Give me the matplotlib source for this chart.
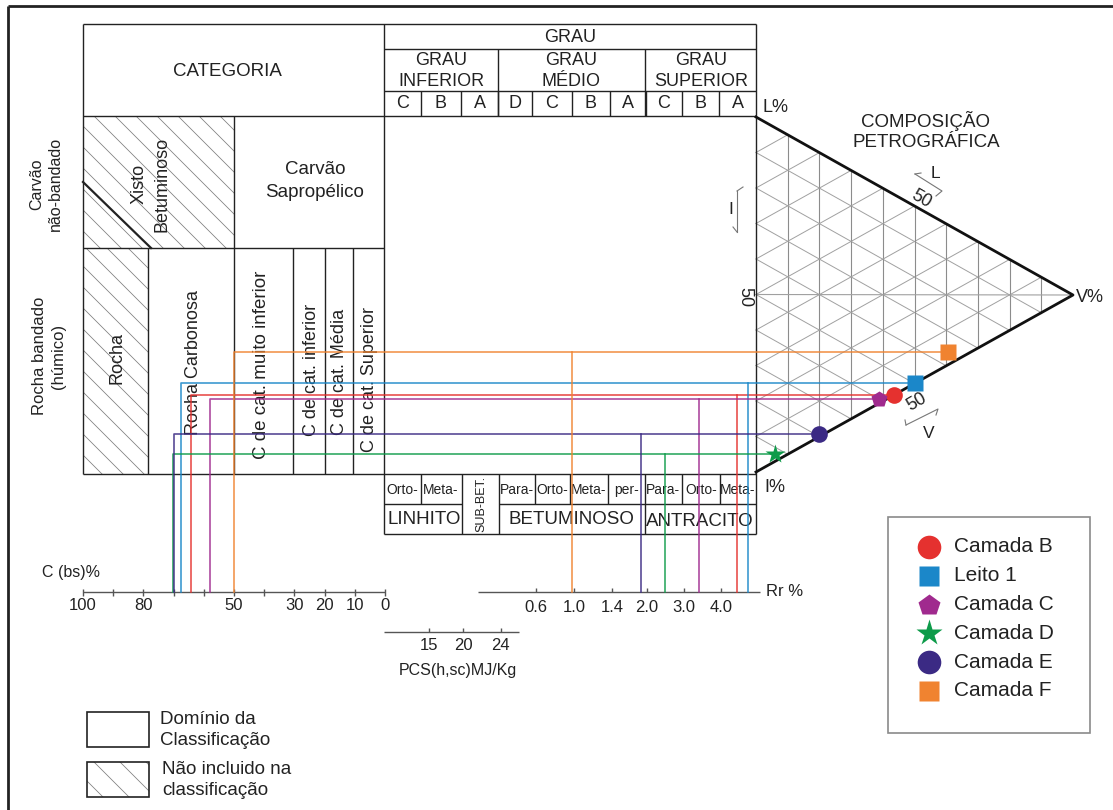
import numpy as np
import matplotlib
matplotlib.use('Agg')
import matplotlib.pyplot as plt
from matplotlib.patches import Rectangle

plt.rcParams['font.family'] = ['Liberation Sans', 'DejaVu Sans']

# ---- sample data ----
names = ['Camada B', 'Leito 1', 'Camada C', 'Camada D', 'Camada E', 'Camada F']
carbon = [64.3, 67.7, 58.0, 70.2, 69.8, 50.0]     # C (bs)%
refl = [4.44, 4.74, 3.40, 2.49, 1.90, 0.98]       # Rr %
vitr = [43.5, 50.2, 38.8, 6.0, 19.9, 60.6]        # V %
inert = [56.5, 49.8, 60.0, 92.0, 79.3, 35.8]      # I %
lipt = [0.0, 0.0, 1.2, 2.0, 0.8, 3.6]             # L %

# ---- axis ticks ----
c_ticks = [100, 90, 80, 70, 60, 50, 40, 30, 20, 10, 0]
c_labels = ['100', '', '80', '', '', '50', '', '30', '20', '10', '0']
rr_ticks = [0.6, 1.0, 1.4, 2.0, 3.0, 4.0]
pcs_ticks = [15, 20, 24]

# styles
colors = ['#e5312f', '#1b87c9', '#a02a8e', '#0e9b4a', '#3b2a84', '#f08330']
markers = ['o', 's', 'p', '*', 'o', 's']
msizes = [12, 11, 12, 15, 12, 11]
leg_sizes = [17, 15, 16, 20, 17, 15]
INK = '#222222'
GRID = '#a0a0a0'

# ---- scales (pixel space) ----
def cx(c):
    return np.interp(c, [0, 100], [385, 83])

RR_VAL = [0.6, 1.0, 1.4, 2.0, 3.0, 4.0, 5.0]
RR_POS = [535.7, 574, 612.3, 646.7, 684.3, 721, 758]
def rx(r):
    return np.interp(r, RR_VAL, RR_POS)

PCS_VAL = [15, 20, 24]
PCS_POS = [429.3, 463.3, 500.7]
def px(p):
    return np.interp(p, PCS_VAL, PCS_POS)

L_V = (756, 117)
I_V = (756, 472)
V_V = (1073, 295)
def tern(v, i, l):
    s = float(v + i + l)
    x = (v * V_V[0] + i * I_V[0] + l * L_V[0]) / s
    y = (v * V_V[1] + i * I_V[1] + l * L_V[1]) / s
    return x, y

fig = plt.figure(figsize=(11.13, 8.10), dpi=100)
ax = fig.add_axes([0, 0, 1, 1])
ax.set_xlim(0, 1113)
ax.set_ylim(810, 0)
ax.axis('off')

def hl(x0, x1, y, c=INK, lw=1.0, z=2):
    ax.plot([x0, x1], [y, y], color=c, lw=lw, zorder=z, solid_capstyle='butt')

def vl(x, y0, y1, c=INK, lw=1.0, z=2):
    ax.plot([x, x], [y0, y1], color=c, lw=lw, zorder=z, solid_capstyle='butt')

def txt(x, y, s, size=12, rot=0, ha='center', va='center', ls=1.45):
    ax.text(x, y, s, fontsize=size, rotation=rot, ha=ha, va=va, color=INK,
            linespacing=ls, zorder=2, rotation_mode='anchor')

def hatch(x0, y0, w, h, step=21):
    r = Rectangle((x0, y0), w, h, fill=False, lw=0)
    ax.add_patch(r)
    for c in np.arange(x0 - h - w, x0 + w + step, step):
        ln, = ax.plot([c, c + w + h], [y0, y0 + w + h], color='#7c7c7c', lw=0.55, zorder=1)
        ln.set_clip_path(r)

# outer frame
hl(8, 1113, 6, lw=2)
vl(8, 6, 810, lw=2)

# ---- category table ----
hl(83, 756, 24)
hl(83, 756, 116)
hl(83, 384, 248)
hl(83, 384, 474)
vl(83, 24, 474)
vl(384, 24, 534)
vl(756, 24, 534)
vl(234, 116, 474)
for x in [148, 293, 325, 353]:
    vl(x, 248, 474)
hatch(83, 116, 151, 132)
hatch(83, 248, 65, 226)
ax.plot([83, 151], [182, 248], color=INK, lw=1.6, zorder=2)

txt(227, 72, 'CATEGORIA', 13.5)
txt(315, 181, 'Carvão\nSapropélico', 13.5)
txt(151, 184, 'Xisto\nBetuminoso', 13, rot=90)
txt(46, 184, 'Carvão\nnão-bandado', 11.5, rot=90, ls=1.35)
txt(49, 356, 'Rocha bandado\n(húmico)', 12, rot=90, ls=1.35)
txt(117, 358, 'Rocha', 13, rot=90)
txt(193, 363, 'Rocha Carbonosa', 13, rot=90)
txt(262, 365, 'C de cat. muito inferior', 13.5, rot=90)
txt(311, 370, 'C de cat. inferior', 13, rot=90)
txt(340, 372, 'C de cat. Média', 13, rot=90)
txt(369, 380, 'C de cat. Superior', 13, rot=90)

# ---- grade table ----
hl(384, 756, 49)
hl(384, 756, 91)
vl(498, 49, 116)
vl(645, 49, 116)
txt(570, 37, 'GRAU', 13)
txt(441, 71, 'GRAU\nINFERIOR', 13, ls=1.3)
txt(571, 71, 'GRAU\nMÉDIO', 13, ls=1.3)
txt(701, 71, 'GRAU\nSUPERIOR', 13, ls=1.3)
edges = [384, 421, 461, 498, 532, 572, 610, 645.5, 682, 719, 756]
letters = ['C', 'B', 'A', 'D', 'C', 'B', 'A', 'C', 'B', 'A']
for k, s in enumerate(letters):
    if 0 < k:
        vl(edges[k], 91, 116)
    txt((edges[k] + edges[k + 1]) / 2, 104, s, 13)

# ---- rank table ----
hl(384, 756, 474)
hl(384, 462, 504)
hl(499, 756, 504)
hl(384, 756, 534)
for x in [462, 499, 645]:
    vl(x, 474, 534)
for x in [421, 535, 570, 608, 682, 720]:
    vl(x, 474, 504)
sub = [(402, 'Orto-'), (441, 'Meta-'), (517, 'Para-'), (552, 'Orto-'),
       (589, 'Meta-'), (627, 'per-'), (663, 'Para-'), (701, 'Orto-'), (738, 'Meta-')]
for x, s in sub:
    txt(x, 490, s, 10)
txt(424, 520, 'LINHITO', 13.5)
txt(481, 504, 'SUB-BET.', 9, rot=90)
txt(571, 519, 'BETUMINOSO', 13.5)
txt(700, 521, 'ANTRACITO', 13.5)

# ---- C (bs)% axis ----
AX_C = '#555555'
hl(cx(100), cx(0), 592, c=AX_C)
for t, lab in zip(c_ticks, c_labels):
    vl(cx(t), 588.5, 595.5, c=AX_C)
    if lab:
        txt(cx(t), 606, lab, 12)
txt(42, 572, 'C (bs)%', 11.5, ha='left')

# ---- Rr % axis ----
hl(478, 760, 592, c=AX_C)
for t in rr_ticks:
    vl(rx(t), 588, 592, c=AX_C)
    txt(rx(t), 608, '%.1f' % t, 12)
txt(766, 591, 'Rr %', 12, ha='left')

# ---- PCS axis ----
hl(384, 519, 632, c=AX_C)
for t in pcs_ticks:
    vl(px(t), 628, 632, c=AX_C)
    txt(px(t), 645, str(t), 12)
txt(458, 671, 'PCS(h,sc)MJ/Kg', 11.5)

# ---- ternary diagram ----
for k in range(1, 10):
    a = k * 10
    p0, p1 = tern(a, 100 - a, 0), tern(a, 0, 100 - a)
    ax.plot([p0[0], p1[0]], [p0[1], p1[1]], color='#8c8c8c', lw=0.8, zorder=1)
    p0, p1 = tern(0, 100 - a, a), tern(100 - a, 0, a)
    ax.plot([p0[0], p1[0]], [p0[1], p1[1]], color=GRID, lw=0.7, zorder=1)
    p0, p1 = tern(0, a, 100 - a), tern(100 - a, a, 0)
    ax.plot([p0[0], p1[0]], [p0[1], p1[1]], color=GRID, lw=0.7, zorder=1)
m = tern(0, 50, 50)
ax.plot([m[0], V_V[0]], [m[1], V_V[1]], color=GRID, lw=0.8, zorder=1)
ax.plot([L_V[0], V_V[0], I_V[0]], [L_V[1], V_V[1], I_V[1]], color='#111111', lw=2, zorder=3)

txt(775, 108, 'L%', 13)
txt(1090, 298, 'V%', 13)
txt(775, 487, 'I%', 13)
txt(926, 131, 'COMPOSIÇÃO\nPETROGRÁFICA', 13.5, ls=1.3)
txt(745, 297, '50', 13, rot=-90)
txt(921, 199, '50', 13, rot=-30)
txt(917, 402, '50', 13, rot=30)
txt(935, 173, 'L', 12.5)
txt(929, 433, 'V', 12.5)
txt(731, 210, 'I', 12.5)
# small direction arrows
ax.plot([737, 737], [191, 232], color='#777777', lw=0.8, zorder=2)
ax.plot([737, 743], [191, 187], color='#777777', lw=0.8, zorder=2)
ax.plot([737, 733], [232, 227], color='#777777', lw=0.8, zorder=2)
ax.plot([915, 942, 936], [174, 191, 196], color='#777777', lw=0.8, zorder=2)
ax.plot([915, 921], [174, 173], color='#777777', lw=0.8, zorder=2)
ax.plot([906, 938, 936], [425, 409, 415], color='#777777', lw=0.8, zorder=2)
ax.plot([906, 905], [425, 420], color='#777777', lw=0.8, zorder=2)

# ---- sample projections ----
for k in range(len(names)):
    tx, ty = tern(vitr[k], inert[k], lipt[k])
    c0 = cx(carbon[k])
    r0 = rx(refl[k])
    ax.plot([c0, c0, tx], [592, ty, ty], color=colors[k], lw=1.2, zorder=3, alpha=0.85)
    ax.plot([r0, r0], [ty, 592], color=colors[k], lw=1.2, zorder=3, alpha=0.85)
    ax.plot(tx, ty, marker=markers[k], ms=msizes[k], color=colors[k], mec='none', zorder=5)

# ---- legend ----
ax.add_patch(Rectangle((888, 517), 202, 216, fill=False, ec='#8a8a8a', lw=1.2, zorder=2))
for k in range(len(names)):
    y = 547 + k * 28.8
    ax.plot(929, y, marker=markers[k], ms=leg_sizes[k], color=colors[k], mec='none', zorder=5)
    txt(954, y, names[k], 15, ha='left')

ax.add_patch(Rectangle((87, 712), 62, 35, fill=False, ec=INK, lw=1.2, zorder=2))
txt(160, 730, 'Domínio da\nClassificação', 13.5, ha='left', ls=1.3)
hatch(87, 762, 62, 35, step=26)
ax.add_patch(Rectangle((87, 762), 62, 35, fill=False, ec=INK, lw=1.2, zorder=2))
txt(162, 780, 'Não incluido na\nclassificação', 13.5, ha='left', ls=1.3)

fig.savefig('out.png', dpi=100)
